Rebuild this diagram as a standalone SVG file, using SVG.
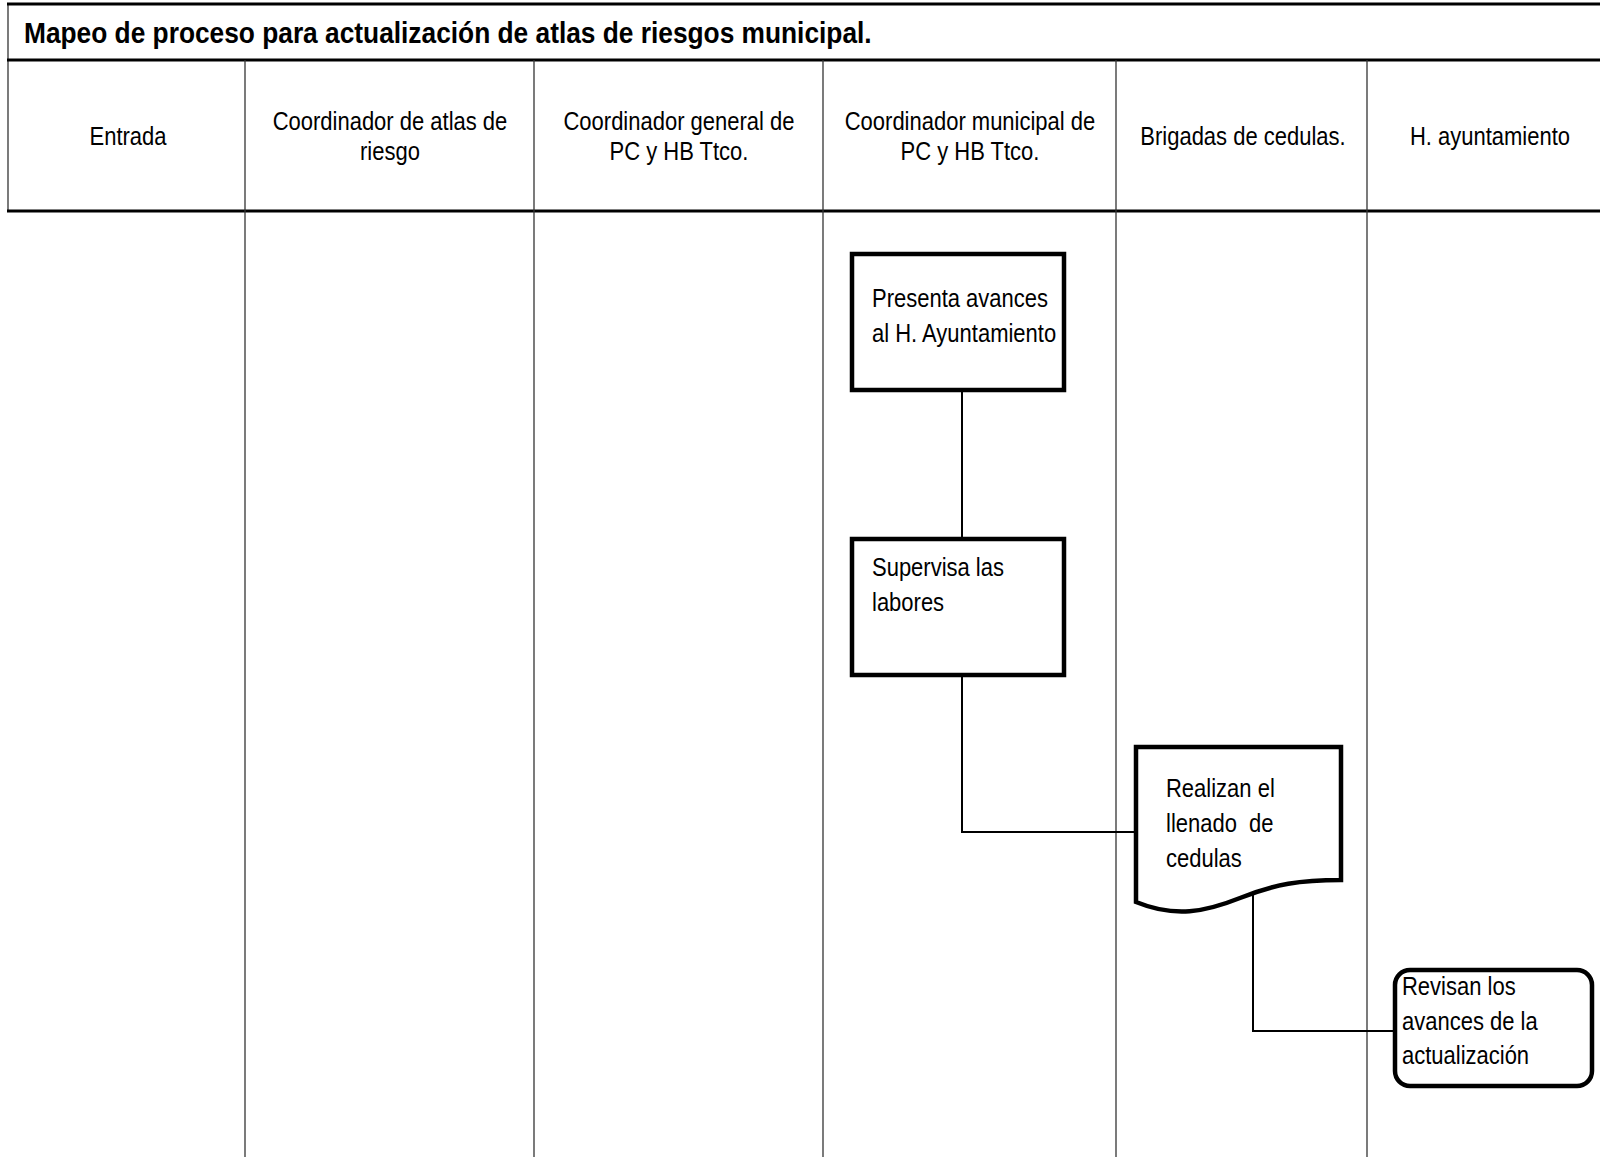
<svg xmlns="http://www.w3.org/2000/svg" width="1600" height="1157" viewBox="0 0 1600 1157">
<style>
.t{font-family:"Liberation Sans",Arial,sans-serif;font-size:25px;fill:#000}
.h{text-anchor:middle}
.title{font-family:"Liberation Sans",Arial,sans-serif;font-size:30px;font-weight:bold;fill:#000}
.col{stroke:#333;stroke-width:1.3;fill:none}
.thick{stroke:#000;stroke-width:3;fill:none}
.node{fill:#fff;stroke:#000;stroke-width:4.5}
.conn{stroke:#000;stroke-width:2;fill:none}
</style>
<rect width="1600" height="1157" fill="#fff"/>
<g id="frame">
<line class="col" x1="8" y1="4" x2="8" y2="211"/>
<line class="thick" x1="7" y1="4" x2="1600" y2="4"/>
<line class="thick" x1="7" y1="60" x2="1600" y2="60"/>
<line class="thick" x1="7" y1="211" x2="1600" y2="211"/>
<line class="col" x1="245" y1="60" x2="245" y2="1157"/>
<line class="col" x1="534" y1="60" x2="534" y2="1157"/>
<line class="col" x1="823" y1="60" x2="823" y2="1157"/>
<line class="col" x1="1116" y1="60" x2="1116" y2="1157"/>
<line class="col" x1="1367" y1="60" x2="1367" y2="1157"/>
<text class="title" transform="scale(0.877,1)" x="27.37" y="43">Mapeo de proceso para actualización de atlas de riesgos municipal.</text>
</g>
<g id="headers">
<text class="t h" transform="scale(0.88,1)" x="145.45" y="145">Entrada</text>
<text class="t h" transform="scale(0.88,1)" x="443.18" y="130">Coordinador de atlas de</text>
<text class="t h" transform="scale(0.88,1)" x="443.18" y="160">riesgo</text>
<text class="t h" transform="scale(0.88,1)" x="771.59" y="130">Coordinador general de</text>
<text class="t h" transform="scale(0.88,1)" x="771.59" y="160">PC y HB Ttco.</text>
<text class="t h" transform="scale(0.88,1)" x="1102.27" y="130">Coordinador municipal de</text>
<text class="t h" transform="scale(0.88,1)" x="1102.27" y="160">PC y HB Ttco.</text>
<text class="t h" transform="scale(0.88,1)" x="1412.5" y="145">Brigadas de cedulas.</text>
<text class="t h" transform="scale(0.88,1)" x="1693.18" y="145">H. ayuntamiento</text>
</g>
<g id="connectors">
<path class="conn" d="M962,390 V539"/>
<path class="conn" d="M962,675 V832 H1136"/>
<path class="conn" d="M1253,893 V1031 H1395"/>
</g>
<g id="node-presenta">
<rect class="node" x="852" y="254" width="212" height="136"/>
<text class="t" transform="scale(0.88,1)" x="990.91" y="307">Presenta avances</text>
<text class="t" transform="scale(0.88,1)" x="990.91" y="342">al H. Ayuntamiento</text>
</g>
<g id="node-supervisa">
<rect class="node" x="852" y="539" width="212" height="136"/>
<text class="t" transform="scale(0.88,1)" x="990.91" y="576">Supervisa las</text>
<text class="t" transform="scale(0.88,1)" x="990.91" y="611">labores</text>
</g>
<g id="node-realizan">
<path class="node" d="M1136,747 H1341 V880 C1300,880 1275,884 1240,898 C1205,912 1175,918 1136,902 Z"/>
<text class="t" transform="scale(0.88,1)" x="1325" y="797">Realizan el</text>
<text class="t" transform="scale(0.88,1)" x="1325" y="832" xml:space="preserve">llenado  de</text>
<text class="t" transform="scale(0.88,1)" x="1325" y="867">cedulas</text>
</g>
<g id="node-revisan">
<rect class="node" x="1395" y="970" width="197" height="116" rx="15" ry="15"/>
<text class="t" transform="scale(0.88,1)" x="1593.18" y="995">Revisan los</text>
<text class="t" transform="scale(0.88,1)" x="1593.18" y="1030">avances de la</text>
<text class="t" transform="scale(0.88,1)" x="1593.18" y="1064">actualización</text>
</g>
</svg>
